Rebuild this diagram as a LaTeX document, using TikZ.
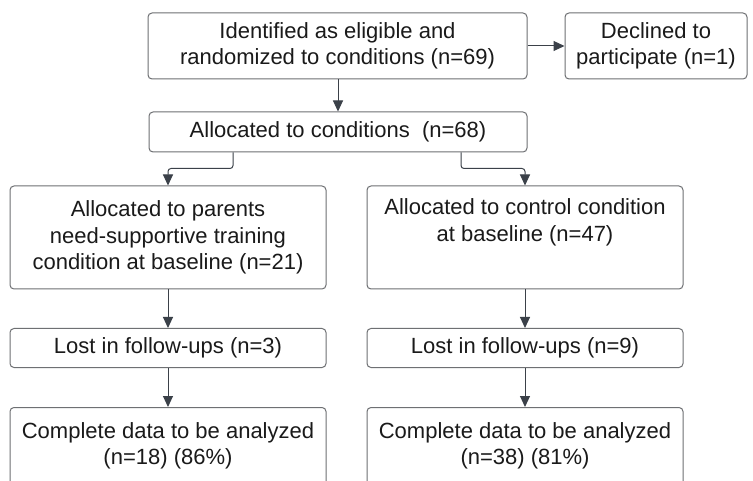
\documentclass[tikz,border=0pt]{standalone}
\usepackage{fontspec}
\setmainfont{Liberation Sans}
\usetikzlibrary{arrows.meta}
\definecolor{boxline}{HTML}{6E7073}
\definecolor{arrowc}{HTML}{3B4149}
\definecolor{txt}{HTML}{1A1A1A}
\begin{document}
\begin{tikzpicture}[x=1pt,y=-1pt,
  box/.style={draw=boxline, line width=1pt, rounded corners=4pt, fill=white,
    align=center, inner sep=0pt, text=txt,
    font=\fontsize{22}{26.5}\selectfont},
  arr/.style={draw=arrowc, line width=1pt, rounded corners=3pt,
    -{Triangle[length=11pt,width=10pt]}}]
\useasboundingbox (0,0) rectangle (753,481);
\clip (0,0) rectangle (753,481);
\fill[white] (0,0) rectangle (753,481);

% top row
\node[box, minimum width=379pt, minimum height=66pt] (elig) at (337.5,46)
  {Identified as eligible and\\randomized to conditions (n=69)};
\node[box, minimum width=182pt, minimum height=66pt] (decl) at (656,46)
  {Declined to\\participate (n=1)};
\node[box, minimum width=378pt, minimum height=40pt] (alloc) at (338,132)
  {Allocated to conditions\ \ (n=68)};

% two arms
\node[box, minimum width=316pt, minimum height=103pt] (par) at (168,237.5)
  {Allocated to parents\\need-supportive training\\condition at baseline (n=21)};
\node[box, minimum width=316pt, minimum height=103pt] (ctl) at (525,237.5)
  {Allocated to control condition\\at baseline (n=47)\\[8pt]};
\node[box, minimum width=316pt, minimum height=39pt] (lostL) at (168,348)
  {Lost in follow-ups (n=3)};
\node[box, minimum width=316pt, minimum height=39pt] (lostR) at (525,348)
  {Lost in follow-ups (n=9)};
\node[box, minimum width=316pt, minimum height=103pt, anchor=north] (compL) at (168,407) {};
\node[box, draw=none, fill=none, anchor=north] (compLt) at ([yshift=-15pt]compL.north)
  {Complete data to be analyzed\\(n=18) (86\%)};
\node[box, minimum width=316pt, minimum height=103pt, anchor=north] (compR) at (525,407) {};
\node[box, draw=none, fill=none, anchor=north] (compRt) at ([yshift=-15pt]compR.north)
  {Complete data to be analyzed\\(n=38) (81\%)};

% connectors
\coordinate (kL) at (233,0);
\coordinate (kR) at (461,0);
\draw[arr] (elig) -- (decl);
\draw[arr] (elig.south -| alloc.north) -- (alloc.north);
\draw[arr] (alloc.south -| kL) -- ++(0,16) -| (par.north);
\draw[arr] (alloc.south -| kR) -- ++(0,16) -| (ctl.north);
\draw[arr] (par) -- (lostL);
\draw[arr] (ctl) -- (lostR);
\draw[arr] (lostL) -- (compL);
\draw[arr] (lostR) -- (compR);
\end{tikzpicture}
\end{document}
